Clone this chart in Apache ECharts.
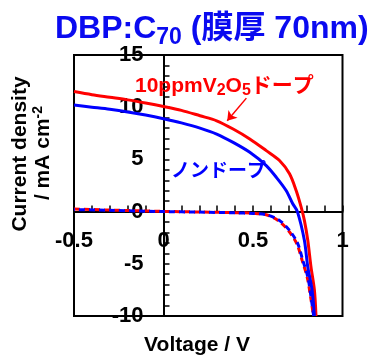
<!DOCTYPE html>
<html><head><meta charset="utf-8">
<script src="https://cdn.jsdelivr.net/npm/echarts@6/dist/echarts.min.js"></script>
<style>html,body{margin:0;padding:0;background:#fff}#c{width:377px;height:356px}</style>
</head><body><div id="c"></div>
<script>
// Tick settings
const xTickValues = [-0.5, 0, 0.5, 1];
const yTickValues = [-10, -5, 0, 5, 10, 15];

// 10ppm V2O5 doped, illuminated (red solid)
const vDopedLight = [-0.5, -0.4, -0.3, -0.2, -0.1, 0, 0.1, 0.204, 0.297, 0.389, 0.482, 0.574, 0.648, 0.704, 0.741, 0.769, 0.787, 0.806, 0.824, 0.843, 0.852];
const jDopedLight = [11.5, 11.2, 10.95, 10.7, 10.4, 10.07, 9.7, 9.18, 8.7, 7.91, 6.96, 5.84, 4.89, 3.62, 2.02, 0.43, -0.84, -2.75, -5.3, -7.5, -10];

// Undoped, illuminated (blue solid)
const vUndopedLight = [-0.5, -0.4, -0.3, -0.2, -0.1, 0, 0.1, 0.204, 0.297, 0.389, 0.482, 0.574, 0.63, 0.685, 0.722, 0.748, 0.787, 0.806, 0.83, 0.843];
const jUndopedLight = [10.2, 10.0, 9.8, 9.55, 9.25, 8.9, 8.5, 8.0, 7.43, 6.63, 5.68, 4.41, 3.29, 2.02, 0.75, 0.0, -2.75, -5.3, -7.5, -10];

// Doped, dark (red dashed)
const vDopedDark = [-0.5, -0.3, 0, 0.2, 0.4, 0.5, 0.574, 0.64, 0.697, 0.745, 0.775, 0.803, 0.822, 0.838];
const jDopedDark = [0.25, 0.15, 0.02, -0.04, -0.1, -0.16, -0.3, -0.85, -1.8, -3.1, -4.7, -6.3, -8.2, -10];

// Undoped, dark (blue dashed)
const vUndopedDark = [-0.5, -0.3, 0, 0.2, 0.4, 0.5, 0.574, 0.648, 0.704, 0.75, 0.778, 0.806, 0.824, 0.839];
const jUndopedDark = [0.2, 0.12, 0.0, -0.05, -0.12, -0.18, -0.3, -0.85, -1.8, -3.06, -4.66, -6.25, -8.16, -10];

// Arrow annotation (data coordinates)
const arrowFrom = [0.463, 10.87];
const arrowTo = [0.356, 8.7];

const RED = '#ff0000';
const BLUE = '#0000ff';
const FONT = '"Liberation Sans", Arial, "Noto Sans CJK JP", sans-serif';

function pairs(v, j) { return v.map((x, i) => [x, j[i]]); }

const GRID = {left: 74, top: 55, right: 34.5, bottom: 40};
const W = 377, H = 356;
const gw = W - GRID.left - GRID.right, gh = H - GRID.top - GRID.bottom;
const xMin = xTickValues[0], xMax = xTickValues[xTickValues.length - 1];
const yMin = yTickValues[0], yMax = yTickValues[yTickValues.length - 1];
// offsets that move the axes onto the zero lines
const xAxisOffset = -gh * (0 - yMin) / (yMax - yMin);
const yAxisOffset = -gw * (0 - xMin) / (xMax - xMin);

const chart = echarts.init(document.getElementById('c'), null, {renderer: 'canvas'});
chart.setOption({
  animation: false,
  title: [{
    left: 50, top: 4,
    text: '{a|DBP:C}{s|70}{a| (膜厚 70nm)}',
    textStyle: {
      rich: {
        a: {fontSize: 32, fontWeight: 'bold', color: '#0a0af0', fontFamily: FONT, lineHeight: 40},
        s: {fontSize: 23, fontWeight: 'bold', color: '#0a0af0', fontFamily: FONT, lineHeight: 19, verticalAlign: 'bottom'}
      }
    }
  }, {
    left: 130, top: 68,
    text: '{a|10ppmV}{s|2}{a|O}{s|5}{a|ドープ}',
    textStyle: {
      rich: {
        a: {fontSize: 21, fontWeight: 'bold', color: RED, fontFamily: FONT, lineHeight: 26},
        s: {fontSize: 16, fontWeight: 'bold', color: RED, fontFamily: FONT, lineHeight: 14, verticalAlign: 'bottom'}
      }
    }
  }, {
    left: 166, top: 157,
    text: 'ノンドープ',
    textStyle: {fontSize: 19, fontWeight: 'bold', color: BLUE, fontFamily: FONT}
  }],
  graphic: [{
    type: 'text', x: 20, y: 154, rotation: Math.PI / 2,
    style: {text: 'Current density', font: 'bold 21px ' + FONT, fill: '#000', textAlign: 'center', textVerticalAlign: 'middle'}
  }, {
    type: 'text', x: 43, y: 153, rotation: Math.PI / 2,
    style: {
      text: '{a|/ mA cm}{s|-2}',
      fill: '#000', textAlign: 'center', textVerticalAlign: 'middle',
      rich: {
        a: {fontSize: 21, fontWeight: 'bold', fontFamily: FONT, lineHeight: 24, fill: '#000'},
        s: {fontSize: 14, fontWeight: 'bold', fontFamily: FONT, lineHeight: 16, verticalAlign: 'top', fill: '#000'}
      }
    }
  }, {
    type: 'text', x: 197, y: 345,
    style: {text: 'Voltage / V', font: 'bold 21px ' + FONT, fill: '#000', textAlign: 'center', textVerticalAlign: 'middle'}
  }],
  grid: Object.assign({show: true, borderColor: '#000', borderWidth: 2, backgroundColor: 'transparent', containLabel: false}, GRID),
  xAxis: {
    type: 'value', min: xMin, max: xMax, interval: 0.5, position: 'bottom', offset: xAxisOffset,
    axisLine: {show: true, onZero: false, lineStyle: {color: '#000', width: 2}},
    axisTick: {show: true, inside: true, length: 6, lineStyle: {color: '#000', width: 1.5}},
    minorTick: {show: true, splitNumber: 5, length: 6, lineStyle: {color: '#000', width: 1.5}},
    splitLine: {show: false},
    axisLabel: {margin: 18, fontSize: 22, fontWeight: 'bold', color: '#000', fontFamily: FONT, showMinLabel: true, showMaxLabel: true}
  },
  yAxis: {
    type: 'value', min: yMin, max: yMax, interval: 5, position: 'left', offset: yAxisOffset,
    axisLine: {show: true, onZero: false, lineStyle: {color: '#000', width: 2}},
    axisTick: {show: true, inside: true, length: 6, lineStyle: {color: '#000', width: 1.5}},
    minorTick: {show: true, splitNumber: 5, length: 6, lineStyle: {color: '#000', width: 1.5}},
    splitLine: {show: false},
    axisLabel: {margin: 20, fontSize: 22, fontWeight: 'bold', color: '#000', fontFamily: FONT, showMinLabel: true, showMaxLabel: true}
  },
  series: [{
    type: 'line', data: pairs(vDopedDark, jDopedDark), showSymbol: false, smooth: 0.3,
    lineStyle: {color: RED, width: 3, type: [6, 4]}
  }, {
    type: 'line', data: pairs(vUndopedDark, jUndopedDark), showSymbol: false, smooth: 0.3,
    lineStyle: {color: BLUE, width: 3, type: [6, 4], dashOffset: 5}
  }, {
    type: 'line', data: pairs(vDopedLight, jDopedLight), showSymbol: false, smooth: 0.3,
    lineStyle: {color: RED, width: 3},
    markLine: {
      silent: true, symbol: ['none', 'arrow'], symbolSize: 9,
      label: {show: false},
      lineStyle: {color: RED, width: 1.5, type: 'solid'},
      data: [[{coord: arrowFrom}, {coord: arrowTo}]]
    }
  }, {
    type: 'line', data: pairs(vUndopedLight, jUndopedLight), showSymbol: false, smooth: 0.3,
    lineStyle: {color: BLUE, width: 3}
  }]
});
</script></body></html>
